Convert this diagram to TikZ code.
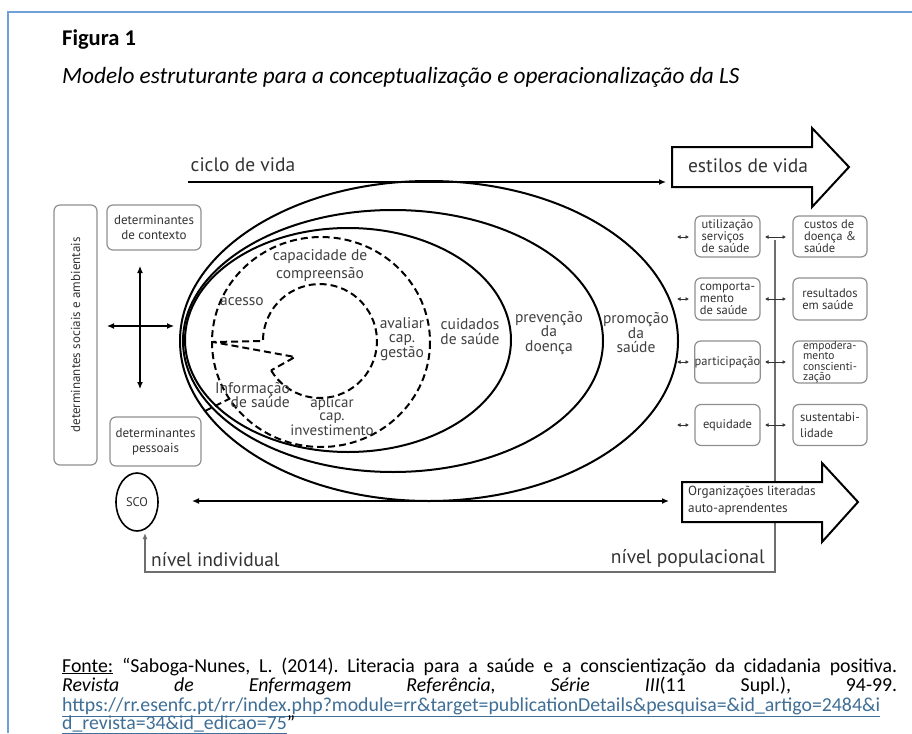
\documentclass[tikz,border=0pt]{standalone}
\usepackage{fontspec}
\setmainfont{PT Sans}
\newfontfamily\calfont{Carlito}
\usetikzlibrary{arrows.meta,shapes.geometric}
\definecolor{frameblue}{HTML}{6FA0D8}
\definecolor{txt}{HTML}{333333}
\definecolor{boxgray}{HTML}{8F8F8F}
\definecolor{linegray}{HTML}{6E6E6E}
\definecolor{linkc}{HTML}{3F6E96}
\newcommand{\setfs}[2]{\fontsize{#1}{#2}\selectfont}
\frenchspacing
\begin{document}
\begin{tikzpicture}[x=1pt,y=-1pt,
  ellline/.style={line width=2pt, draw=black},
  dashline/.style={line width=2pt, draw=black, dash pattern=on 7pt off 4pt},
  gbox/.style={draw=boxgray, line width=1.2pt, rounded corners=6pt, text=txt, inner sep=1pt, align=center},
  rbox/.style={gbox, align=left, font=\setfs{12.5}{12}},
  lbl/.style={text=txt, inner sep=0pt, align=center},
  inlbl/.style={lbl, text=black!75, font=\setfs{15.5}{14.5}},
  biglbl/.style={lbl, font=\setfs{19.5}{20}},
  tip/.style={line width=1.6pt, -{Latex[length=7pt,width=6pt]}},
  dtip/.style={line width=1.4pt, {Latex[length=7pt,width=6pt]}-{Latex[length=7pt,width=6pt]}},
  mini/.style={line width=0.9pt, draw=txt, {Latex[length=3.5pt,width=4pt]}-{Latex[length=3.5pt,width=4pt]}},
  bigarrow/.style={line width=2pt, draw=black, fill=white, line join=miter},
  noteline/.style={anchor=base west, inner sep=0pt, font=\calfont\setfs{19.8}{21}}
]
\useasboundingbox (0,0) rectangle (912,733);
\fill[white] (0,0) rectangle (912,733);
% frame
\draw[frameblue, line width=1.5pt] (8,733) -- (8,12) -- (912,12);

% header
\node[anchor=base west, inner sep=0pt, font=\calfont\bfseries\setfs{22.5}{24}] (fig) at (62,46) {Figura 1};
\node[anchor=base west, inner sep=0pt, font=\calfont\itshape\setfs{23.3}{25}] (ttl) at (62,84) {Modelo estruturante para a conceptualização e operacionalização da LS};

% ellipses
\draw[ellline] (429,341) ellipse [x radius=249, y radius=160];
\draw[ellline] (393,341) ellipse [x radius=210, y radius=131];
\draw[ellline] (348,340) ellipse [x radius=163, y radius=112];

% dashed structure
\draw[dashline] (321,342) ellipse [x radius=109, y radius=105];
\coordinate (cc) at (320,341);
\coordinate (L) at (213,342);
\coordinate (W) at (295,357);
\coordinate (P) at (271.1,370.4);
\draw[dashline] (P) arc[start angle=149, end angle=-180, radius=57] -- (L) -- (W) -- (P);
\coordinate (s1) at (205,411);
\coordinate (s2) at (229,399);
\draw[dashline] (s1) -- (s2);

% inner labels
\node[inlbl, font=\setfs{15.5}{18}] (capc) at (320,266) {capacidade de\\compreensão};
\node[inlbl] (acesso) at (242,302) {acesso};
\node[inlbl] (aval) at (402,339) {avaliar\\cap.\\gestão};
\node[inlbl, align=right, anchor=east] (info) at (290,395) {Informação\\de saúde};
\node[inlbl, font=\setfs{15}{13.5}] (apl) at (332,416) {aplicar\\cap.\\investimento};
\node[inlbl, font=\setfs{15.5}{15}] (cuid) at (470,332) {cuidados\\de saúde};
\node[inlbl] (prev) at (549,333) {prevenção\\da\\doença};
\node[inlbl] (prom) at (636,333) {promoção\\da\\saúde};

% ciclo de vida
\node[biglbl] (ciclo) at (243,165) {ciclo de vida};
\coordinate (cl) at (188,182);
\coordinate (cr) at (666,182);
\draw[tip] (cl) -- (cr);

% estilos de vida arrow
\draw[bigarrow] (672,147) -- (812,147) -- (812,128) -- (849,167) -- (812,207) -- (812,187) -- (672,187) -- cycle;
\node[biglbl] (estilos) at (748,166) {estilos de vida};

% left boxes
\node[gbox, rotate=90, minimum width=260, minimum height=43, font=\setfs{13}{14}] (soc) at (75.5,335) {determinantes sociais e ambientais};
\node[gbox, minimum width=94, minimum height=45, font=\setfs{13}{15}] (ctx) at (154,227.5) {determinantes\\de contexto};
\node[gbox, minimum width=91, minimum height=49, font=\setfs{13}{15}] (pes) at (155.5,441.5) {determinantes\\pessoais};
\coordinate (vt) at (140,266);
\coordinate (vb) at (140,389);
\coordinate (hl) at (107,326);
\coordinate (hr) at (174,326);
\draw[dtip, line width=1.2pt] (vt) -- (vb);
\draw[dtip, line width=1.2pt] (hl) -- (hr);

% SCO and population arrows
\node[ellipse, draw=black, line width=1.6pt, minimum width=42, minimum height=58, inner sep=0pt, text=txt, font=\setfs{12.5}{12}] (sco) at (137,502) {SCO};
\coordinate (hal) at (192,501);
\coordinate (har) at (669,501);
\draw[dtip] (hal) -- (har);

% gray loop
\coordinate (g1) at (775,240);
\coordinate (g2) at (775,572);
\coordinate (g3) at (145,572);
\coordinate (g4) at (145,533);
\draw[linegray, line width=1.4pt, -{Latex[length=6pt,width=5pt]}] (g1) -- (g2) -- (g3) -- (g4);

\node[biglbl, anchor=west] (nind) at (151,560) {nível individual};
\node[biglbl, anchor=east] (npop) at (765,558) {nível populacional};

% organizations arrow
\draw[bigarrow] (682,482) -- (822,482) -- (822,463) -- (858,502) -- (822,542) -- (822,522) -- (682,522) -- cycle;
\node[lbl, align=left, anchor=west, font=\setfs{13.2}{17}] (org) at (688,500.5) {Organizações literadas\\auto-aprendentes};

% right column boxes
\node[rbox, minimum width=65, minimum height=41] (b11) at (727.5,236.5) {utilização\\serviços\\de saúde};
\node[rbox, minimum width=74, minimum height=41] (b12) at (830,236.5) {custos de\\doença \&\\saúde};
\node[rbox, minimum width=65, minimum height=42] (b21) at (727.5,299) {comporta-\\mento\\de saúde};
\node[rbox, minimum width=74, minimum height=42] (b22) at (830,299) {resultados\\em saúde};
\node[rbox, minimum width=65, minimum height=42, align=center, inner sep=0pt] (b31) at (727.5,362) {participação};
\node[rbox, minimum width=74, minimum height=42, inner sep=0pt, font=\setfs{11.5}{10.4}] (b32) at (830,362) {empodera-\\mento\\conscienti-\\zação};
\node[rbox, minimum width=65, minimum height=41, align=center] (b41) at (727.5,425) {equidade};
\node[rbox, minimum width=74, minimum height=41, font=\setfs{12.5}{16}] (b42) at (830,425) {sustentabi-\\lidade};

\foreach \r/\yy in {1/237,2/299,3/362,4/425}{
  \coordinate (la\r) at (677,\yy);
  \coordinate (lb\r) at (689,\yy);
  \coordinate (ma\r) at (765,\yy);
  \coordinate (mb\r) at (786,\yy);
  \draw[mini] (la\r) -- (lb\r);
  \draw[mini] (ma\r) -- (mb\r);
}

% footnote
\node[noteline] (n1) at (62,672) {\makebox[835pt][s]{\underline{Fonte:} “Saboga-Nunes, L. (2014). Literacia para a saúde e a conscientização da cidadania positiva.}};
\node[noteline] (n2) at (62,691.5) {\makebox[835pt][s]{\textit{Revista de Enfermagem Referência, Série III}(11 Supl.), 94-99.}};
\node[noteline, text=linkc] (n3) at (62,711) {\underline{https://rr.esenfc.pt/rr/index.php?module=rr\&target=publicationDetails\&pesquisa=\&id\_artigo=2484\&i}};
\node[noteline] (n4) at (62,729.5) {\textcolor{linkc}{\underline{d\_revista=34\&id\_edicao=75}}”};
\end{tikzpicture}
\end{document}
